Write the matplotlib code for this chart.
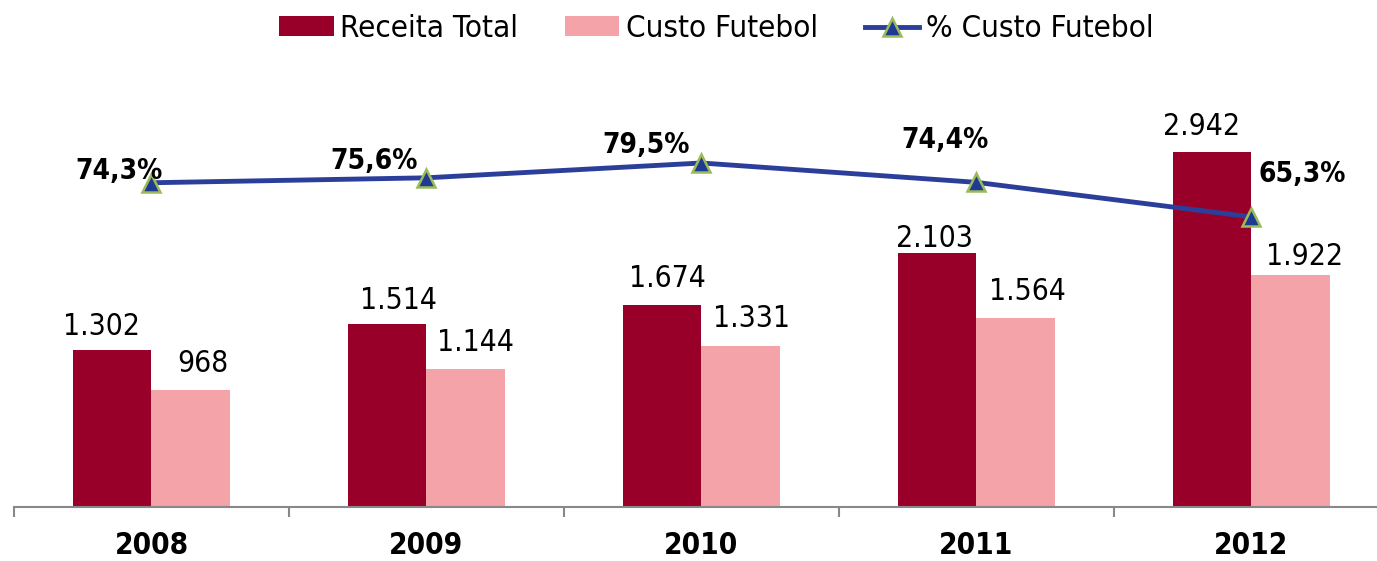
import matplotlib.pyplot as plt
import numpy as np

# Data
years = ['2008', '2009', '2010', '2011', '2012']
receita = [1302, 1514, 1674, 2103, 2942]
custo = [968, 1144, 1331, 1564, 1922]
pct = [74.3, 75.6, 79.5, 74.4, 65.3]

def br(v):
    return f"{v:,}".replace(',', '.')

plt.rcParams['font.family'] = ['DejaVu Sans']
plt.rcParams['font.stretch'] = 'condensed'

fig = plt.figure(figsize=(13.77, 5.61), dpi=100)
W, H = 1377, 561
PT = 0.72  # points per pixel at dpi 100
ax = fig.add_axes([14 / W, (H - 507) / H, 1375 / W, 446.2 / H])

x = np.arange(len(years))
w = 0.284
c_rec = '#990029'
c_cus = '#F4A3A8'

b1 = ax.bar(x - w / 2, receita, w, color=c_rec, label='Receita Total')
b2 = ax.bar(x + w / 2, custo, w, color=c_cus, label='Custo Futebol')

# label offsets (pixels) as placed in the original chart
rec_off = [(-11, 15), (11, 15), (5, 18), (-3, 6), (-11, 17)]
cus_off = [(12, 18), (10, 18), (11, 19), (12, 18), (14, 10)]
for i in range(len(years)):
    dx, dy = rec_off[i]
    ax.annotate(br(receita[i]), (x[i] - w / 2, receita[i]), xytext=(dx * PT, dy * PT),
                textcoords='offset points', ha='center', va='baseline', fontsize=21.5)
    dx, dy = cus_off[i]
    ax.annotate(br(custo[i]), (x[i] + w / 2, custo[i]), xytext=(dx * PT, dy * PT),
                textcoords='offset points', ha='center', va='baseline', fontsize=21.5)

ax.set_xlim(-0.5, 4.5)
ax.set_ylim(0, 3700)
ax.set_yticks([])
for s in ['top', 'right', 'left']:
    ax.spines[s].set_visible(False)
ax.spines['bottom'].set_color('#888888')
ax.spines['bottom'].set_linewidth(1.5)
ax.set_xticks(x)
ax.set_xticklabels(years, fontsize=21.3, fontweight='bold')
ax.tick_params(axis='x', length=0, pad=17)
ax.set_xticks(np.arange(-0.5, 5.0, 1.0), minor=True)
ax.tick_params(axis='x', which='minor', length=7, color='#888888', width=1.5)

ax2 = ax.twinx()
ax2.set_ylim(-11.05, 106.4)
ax2.axis('off')
line, = ax2.plot(x, pct, color='#2B3F9A', lw=3.5, marker='^', markersize=13,
                 markerfacecolor='#1F3A93', markeredgecolor='#9BBB59',
                 markeredgewidth=1.8, label='% Custo Futebol')

pct_off = [(-32, 4), (-52, 9), (-55, 10), (-31, 34), (51, 35)]
for i in range(len(years)):
    dx, dy = pct_off[i]
    ax2.annotate(f"{pct[i]:.1f}%".replace('.', ','), (x[i], pct[i]),
                 xytext=(dx * PT, dy * PT), textcoords='offset points',
                 ha='center', va='baseline', fontsize=20.2, fontweight='bold')

fig.legend([b1, b2, line], ['Receita Total', 'Custo Futebol', '% Custo Futebol'],
           loc='upper center', bbox_to_anchor=(0.52, 1.025), ncol=3, frameon=False,
           fontsize=22.5, handlelength=1.75, handleheight=0.6, columnspacing=1.5,
           handletextpad=0.2)

fig.savefig('out.png', dpi=100)
